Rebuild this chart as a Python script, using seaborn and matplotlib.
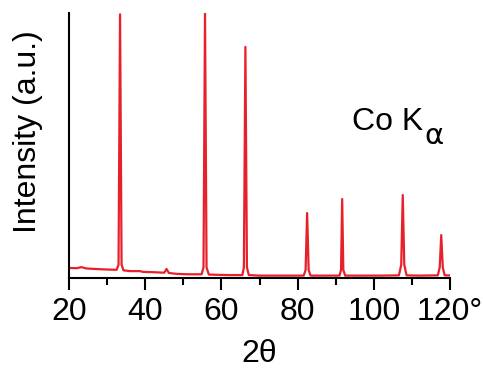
import matplotlib
matplotlib.use("Agg")
import matplotlib.pyplot as plt
import seaborn as sns
import pandas as pd

# Diffraction pattern (2theta in degrees, intensity in a.u.)
two_theta = [20.0, 22.0, 23.3, 24.5, 27.0, 30.0, 32.5, 33.0, 33.4, 33.8, 34.3, 36.0,
             38.6, 39.5, 42.0, 45.0, 45.6, 46.2, 48.0, 51.0, 54.8, 55.3, 55.7, 56.1,
             56.7, 59.0, 62.0, 65.5, 65.9, 66.3, 66.7, 67.2, 70.0, 75.0, 81.6, 82.1,
             82.5, 82.9, 83.4, 87.0, 91.0, 91.4, 91.7, 92.0, 92.5, 97.0, 102.0, 106.6,
             107.2, 107.6, 108.0, 108.6, 112.0, 116.8, 117.3, 117.7, 118.1, 118.6, 120.0]
intensity = [3.8, 3.7, 4.1, 3.6, 3.4, 3.2, 3.1, 5.0, 99.5, 5.0, 2.9, 2.6,
             2.6, 2.3, 2.2, 2.0, 3.4, 1.9, 1.6, 1.4, 1.4, 4.0, 100.0, 4.0,
             1.3, 1.2, 1.1, 1.1, 4.0, 87.2, 4.0, 1.1, 0.9, 0.9, 0.9, 3.0,
             24.5, 3.0, 0.9, 0.9, 0.9, 3.0, 29.8, 3.0, 0.9, 0.9, 0.9, 1.0,
             5.0, 31.3, 5.0, 1.0, 0.9, 1.0, 4.0, 16.2, 4.0, 1.0, 1.0]
x_ticks = [20, 40, 60, 80, 100, 120]
x_tick_labels = ["20", "40", "60", "80", "100", "120°"]

df = pd.DataFrame({"two_theta": two_theta, "intensity": intensity})

sns.set_style("white")
plt.rcParams["font.family"] = ["Liberation Sans", "DejaVu Sans"]
plt.rcParams["text.color"] = "black"
plt.rcParams["axes.labelcolor"] = "black"
plt.rcParams["xtick.color"] = "black"
plt.rcParams["ytick.color"] = "black"

fig = plt.figure(figsize=(4.83, 3.73), dpi=100)
ax = fig.add_axes([69 / 483, 1 - 278 / 373, (450 - 69) / 483, (278 - 13) / 373])

sns.lineplot(data=df, x="two_theta", y="intensity", ax=ax, color="#e8202a",
             linewidth=1.6, sort=False, estimator=None)

ax.set_xlim(20, 120)
ax.set_ylim(0, 100)
ax.set_xticks(x_ticks)
ax.set_xticklabels(x_tick_labels)
ax.set_xticks([30, 50, 70, 90, 110], minor=True)
ax.set_yticks([])
ax.tick_params(axis="x", which="major", direction="out", length=8.5, width=1.5,
               color="black", labelcolor="black", labelsize=23, pad=5, bottom=True)
ax.tick_params(axis="x", which="minor", direction="out", length=5, width=1.5,
               color="black", bottom=True)

for side in ["top", "right"]:
    ax.spines[side].set_visible(False)
for side in ["left", "bottom"]:
    ax.spines[side].set_visible(True)
    ax.spines[side].set_color("black")
    ax.spines[side].set_linewidth(1.5)

ax.set_xlabel("2θ", fontsize=23, labelpad=9, color="black")
ax.set_ylabel("Intensity (a.u.)", fontsize=23, color="black")
ax.yaxis.set_label_coords((43 - 69) / 381, (278 - 132) / 265)

co = fig.text(352 / 483, 1 - 130 / 373, "Co K", fontsize=23, ha="left",
              va="baseline", color="black")
ax.annotate("α", xy=(1, 0), xycoords=co, xytext=(1, -5), textcoords="offset points",
            fontsize=21, ha="left", va="baseline", color="black",
            family=["DejaVu Sans"], annotation_clip=False)

fig.savefig("out.png", dpi=100)
